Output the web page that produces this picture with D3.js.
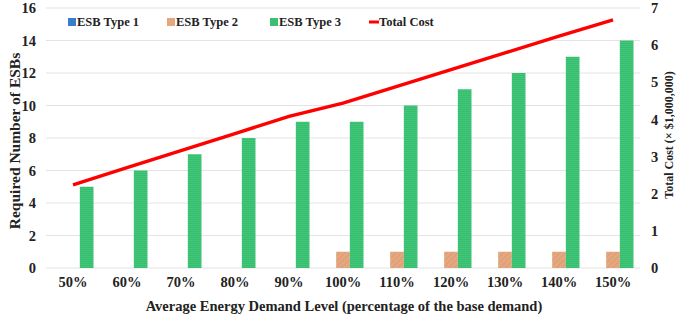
<!DOCTYPE html>
<html>
<head>
<meta charset="utf-8">
<script src="https://cdn.jsdelivr.net/npm/d3@7"></script>
<style>
  body { margin: 0; background: #fff; }
  text { font-family: "Liberation Serif", "Times New Roman", serif; font-weight: bold; fill: #222; }
</style>
</head>
<body>
<svg width="678" height="321"></svg>
<script>
// data
var levels = ["50%", "60%", "70%", "80%", "90%", "100%", "110%", "120%", "130%", "140%", "150%"];
var type1 = [0, 0, 0, 0, 0, 0, 0, 0, 0, 0, 0];
var type2 = [0, 0, 0, 0, 0, 1, 1, 1, 1, 1, 1];
var type3 = [5, 6, 7, 8, 9, 9, 10, 11, 12, 13, 14];
var totalCost = [2.24, 2.70, 3.16, 3.62, 4.08, 4.44, 4.89, 5.34, 5.79, 6.24, 6.68];
var seriesNames = ["ESB Type 1", "ESB Type 2", "ESB Type 3"];
var leftTicks = [0, 2, 4, 6, 8, 10, 12, 14, 16];
var rightTicks = [0, 1, 2, 3, 4, 5, 6, 7];

var svg = d3.select("svg"),
    margin = {top: 8, right: 38, bottom: 53, left: 46},
    width = 678 - margin.left - margin.right,
    height = 321 - margin.top - margin.bottom;

var defs = svg.append("defs");
// green bars have fine horizontal stripes
var pg = defs.append("pattern").attr("id", "pGreen").attr("patternUnits", "userSpaceOnUse")
    .attr("width", 4).attr("height", 2);
pg.append("rect").attr("width", 4).attr("height", 2).attr("fill", "#36be6f");
pg.append("rect").attr("width", 4).attr("height", 1).attr("fill", "#44c67a");
// orange bars have a faint diagonal hatch
var po = defs.append("pattern").attr("id", "pOrange").attr("patternUnits", "userSpaceOnUse")
    .attr("width", 4).attr("height", 4).attr("patternTransform", "rotate(45)");
po.append("rect").attr("width", 4).attr("height", 4).attr("fill", "#e4a77f");
po.append("rect").attr("width", 1).attr("height", 4).attr("fill", "#dc9c72");

var colors = ["#3a7dc8", "url(#pOrange)", "url(#pGreen)"];
var swatch = ["#3a7dc8", "#e4a77f", "#3cbf72"];

var g = svg.append("g").attr("transform", "translate(" + margin.left + "," + margin.top + ")");

var x = d3.scaleBand().domain(levels).range([0, width]);
var xSub = d3.scaleBand().domain([0, 1, 2]).range([x.bandwidth() / 2 - 20.5, x.bandwidth() / 2 + 20.5]);
var yL = d3.scaleLinear().domain([0, 16]).range([height, 0]);
var yR = d3.scaleLinear().domain([0, 7]).range([height, 0]);

// gridlines
g.selectAll(".grid").data(leftTicks).enter().append("line")
    .attr("x1", 0).attr("x2", width)
    .attr("y1", function(d) { return yL(d); })
    .attr("y2", function(d) { return yL(d); })
    .attr("stroke", "#e3e3e3").attr("stroke-width", 1);

// axes (labels only)
var axL = g.append("g").call(d3.axisLeft(yL).tickValues(leftTicks).tickSize(0).tickPadding(10));
var axR = g.append("g").attr("transform", "translate(" + width + ",0)")
    .call(d3.axisRight(yR).tickValues(rightTicks).tickFormat(d3.format("d")).tickSize(0).tickPadding(11));
var axB = g.append("g").attr("transform", "translate(0," + height + ")")
    .call(d3.axisBottom(x).tickSize(0).tickPadding(9));
[axL, axR, axB].forEach(function(a) {
    a.select(".domain").remove();
    a.selectAll("text").style("font-size", "14.5px").attr("fill", "#222");
});

// bars
var series = [type1, type2, type3];
series.forEach(function(vals, s) {
    g.selectAll(".bar" + s).data(vals).enter().append("rect")
        .attr("x", function(d, i) { return x(levels[i]) + xSub(s); })
        .attr("width", xSub.bandwidth())
        .attr("y", function(d) { return yL(d); })
        .attr("height", function(d) { return height - yL(d); })
        .attr("fill", colors[s]);
});

// total cost line
var line = d3.line()
    .x(function(d, i) { return x(levels[i]) + x.bandwidth() / 2; })
    .y(function(d) { return yR(d); });
g.append("path").datum(totalCost)
    .attr("d", line).attr("fill", "none")
    .attr("stroke", "#ff0000").attr("stroke-width", 3.4);

// legend
var legX = [68, 167, 270];
seriesNames.forEach(function(n, i) {
    svg.append("rect").attr("x", legX[i]).attr("y", 18).attr("width", 8).attr("height", 8).attr("fill", swatch[i]);
    svg.append("text").attr("x", legX[i] + 9).attr("y", 26).style("font-size", "12.5px").text(n);
});
svg.append("line").attr("x1", 369).attr("x2", 379).attr("y1", 22).attr("y2", 22)
    .attr("stroke", "#ff0000").attr("stroke-width", 3);
svg.append("text").attr("x", 379).attr("y", 26).style("font-size", "12.5px").text("Total Cost");

// axis titles
svg.append("text").attr("transform", "translate(20,141) rotate(-90)")
    .attr("text-anchor", "middle").style("font-size", "15.5px").text("Required Number of ESBs");
svg.append("text").attr("transform", "translate(673,135) rotate(-90)")
    .attr("text-anchor", "middle").style("font-size", "12px").text("Total Cost (× $1,000,000)");
svg.append("text").attr("x", 344).attr("y", 311)
    .attr("text-anchor", "middle").style("font-size", "14.5px")
    .text("Average Energy Demand Level (percentage of the base demand)");
</script>
</body>
</html>
